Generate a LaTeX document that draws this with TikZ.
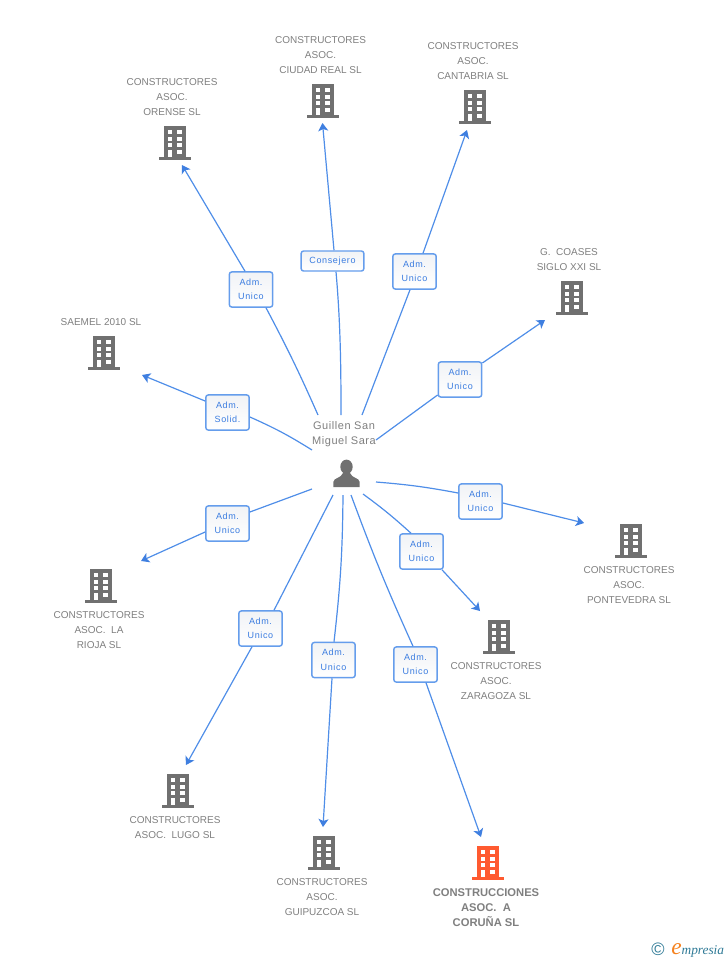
\documentclass[tikz,border=0pt]{standalone}
\usepackage{fontspec}
\usetikzlibrary{arrows.meta,calc}
\setmainfont{Liberation Sans}
\newfontfamily\lblfont[LetterSpace=7]{Liberation Sans}
\newfontfamily\perfont[LetterSpace=5]{Liberation Sans}
\newfontfamily\logofont{Liberation Serif}
\definecolor{edgeblue}{HTML}{4F8EE8}
\definecolor{tipblue}{HTML}{3F7FE0}
\definecolor{lbltext}{HTML}{3A7CE0}
\definecolor{boxblue}{HTML}{659DEC}
\definecolor{boxtop}{HTML}{F1F3F6}
\definecolor{txtgray}{HTML}{7F7F7F}
\definecolor{icongray}{HTML}{707070}
\definecolor{iconorange}{HTML}{FF5A30}
\definecolor{logoteal}{HTML}{2F7A96}
\definecolor{logoorange}{HTML}{F5821F}
\tikzset{
  x=0.75pt,y=-0.75pt,
  link/.style={draw=edgeblue,line width=0.9pt},
  arrowlink/.style={link,-{Stealth[length=6pt,width=7.5pt,inset=1.5pt,color=tipblue]}},
  rolebox/.style={draw=boxblue,line width=1.1pt,rounded corners=1.8pt,top color=boxtop,bottom color=white,
    inner sep=0pt,minimum width=32.5pt,minimum height=26.3pt,align=center,text=lbltext,
    font=\lblfont\fontsize{6.75}{10.9}\selectfont},
  onebox/.style={rolebox,minimum width=47pt,minimum height=15pt},
  firm/.style={align=center,text=txtgray,inner sep=0pt,font=\fontsize{7.5}{11.25}\selectfont},
  boldfirm/.style={align=center,text=txtgray,inner sep=0pt,font=\bfseries\fontsize{8.4}{11.25}\selectfont},
  person/.style={align=center,text=txtgray,inner sep=0pt,font=\perfont\fontsize{8.25}{11.4}\selectfont},
  bldg/.pic={
    \fill[#1] (-11,0) rectangle (11,31);
    \fill[#1] (-16,31) rectangle (16,34);
    \foreach \yy in {4,10.7,17.3}{
      \fill[white] (-7.5,\yy) rectangle (-3,\yy+4);
      \fill[white] (2.2,\yy) rectangle (6.8,\yy+4);
    }
    \fill[white] (-7.5,24) rectangle (-3,31);
    \fill[white] (2.2,24) rectangle (6.8,28);
  },
}
\begin{document}
\begin{tikzpicture}
\useasboundingbox (0,0) rectangle (728,960);
% free ends near the person
\coordinate (sCiudad) at (341,415);
\coordinate (sCant) at (362,415);
\coordinate (sOre) at (318,415);
\coordinate (sSiglo) at (376,440);
\coordinate (sSae) at (312,450);
\coordinate (sPont) at (376,482);
\coordinate (sZar) at (363,494);
\coordinate (sRio) at (312,489);
\coordinate (sLugo) at (333,495);
\coordinate (sGui) at (343,495);
\coordinate (sCor) at (351,495);
% free ends near the firms
\coordinate (eCiudad) at (322.5,123);
\coordinate (eCant) at (467,130);
\coordinate (eOre) at (182,165);
\coordinate (eSiglo) at (545,320);
\coordinate (eSae) at (142,375);
\coordinate (ePont) at (584,523);
\coordinate (eZar) at (480,611);
\coordinate (eRio) at (141,561);
\coordinate (eLugo) at (186,765);
\coordinate (eGui) at (323,827);
\coordinate (eCor) at (481,837);
% role boxes
\node[onebox] (rCiudad) at (332.5,261) {Consejero};
\node[rolebox] (rCant) at (414.5,271.5) {Adm.\\Unico};
\node[rolebox] (rOre) at (251,289.5) {Adm.\\Unico};
\node[rolebox] (rSiglo) at (460,379.5) {Adm.\\Unico};
\node[rolebox] (rSae) at (227.5,412.5) {Adm.\\Solid.};
\node[rolebox] (rPont) at (480.5,501.5) {Adm.\\Unico};
\node[rolebox] (rZar) at (421.5,551.5) {Adm.\\Unico};
\node[rolebox] (rRio) at (227.5,523.5) {Adm.\\Unico};
\node[rolebox] (rLugo) at (260.5,628.5) {Adm.\\Unico};
\node[rolebox] (rGui) at (333.5,660) {Adm.\\Unico};
\node[rolebox] (rCor) at (415.5,664.5) {Adm.\\Unico};
% connectors
\draw[link] (sCiudad) to[out=90,in=-85,looseness=0.9] ($(rCiudad.south)+(3.5,0)$);
\draw[arrowlink] ($(rCiudad.north)+(1.5,0)$) -- (eCiudad);
\draw[link] (sCant) -- ($(rCant.south)+(-4.5,0)$);
\draw[arrowlink] ($(rCant.north)+(8.5,0)$) -- (eCant);
\draw[link] (sOre) to[bend right=2] ($(rOre.south)+(15,0)$);
\draw[arrowlink] ($(rOre.north)+(-6,0)$) -- (eOre);
\draw[link] (sSiglo) -- ($(rSiglo.west)+(0,15.5)$);
\draw[arrowlink] ($(rSiglo.east)+(0,-16.5)$) -- (eSiglo);
\draw[link] (sSae) to[bend right=4] ($(rSae.east)+(0,4.5)$);
\draw[arrowlink] ($(rSae.west)+(0,-11.5)$) -- (eSae);
\draw[link] (sPont) to[bend left=3] ($(rPont.west)+(0,-8.5)$);
\draw[arrowlink] ($(rPont.east)+(0,1.5)$) -- (ePont);
\draw[link] (sZar) to[bend left=3] ($(rZar.north)+(-10.5,0)$);
\draw[arrowlink] ($(rZar.south)+(20.5,0)$) -- (eZar);
\draw[link] (sRio) -- ($(rRio.east)+(0,-11.5)$);
\draw[arrowlink] ($(rRio.west)+(0,8.5)$) -- (eRio);
\draw[link] (sLugo) -- ($(rLugo.north)+(13.5,0)$);
\draw[arrowlink] ($(rLugo.south)+(-8.5,0)$) -- (eLugo);
\draw[link] (sGui) to[bend left=3] ($(rGui.north)+(0.5,0)$);
\draw[arrowlink] ($(rGui.south)+(-1.5,0)$) -- (eGui);
\draw[link] (sCor) to[bend right=2] ($(rCor.north)+(-2.5,0)$);
\draw[arrowlink] ($(rCor.south)+(10.5,0)$) -- (eCor);
% person
\node[person] (pname) at (344,434) {Guillen San\\Miguel Sara};
\fill[icongray] (346.5,466.8) ellipse [x radius=6.2,y radius=7.2];
\fill[icongray] (333.3,487) -- (333.3,482) .. controls (333.8,477.5) and (341,478.5) .. (343,473)
  -- (350,473) .. controls (352,478.5) and (359.2,477.5) .. (359.7,482) -- (359.7,487) -- cycle;
% buildings
\pic at (323,84) {bldg=icongray};
\pic at (475,90) {bldg=icongray};
\pic at (175,126) {bldg=icongray};
\pic at (572,281) {bldg=icongray};
\pic at (104,336) {bldg=icongray};
\pic at (631,524) {bldg=icongray};
\pic at (499,620) {bldg=icongray};
\pic at (101,569) {bldg=icongray};
\pic at (178,774) {bldg=icongray};
\pic at (324,836) {bldg=icongray};
\pic at (488,846) {bldg=iconorange};
% firm names
\node[firm] (tCiudad) at (320.5,55.4) {CONSTRUCTORES\\ASOC.\\CIUDAD REAL SL};
\node[firm] (tCant) at (473,61.4) {CONSTRUCTORES\\ASOC.\\CANTABRIA SL};
\node[firm] (tOre) at (172,97.4) {CONSTRUCTORES\\ASOC.\\ORENSE SL};
\node[firm] (tSiglo) at (569,259.9) {G.~~COASES\\SIGLO XXI SL};
\node[firm] (tSae) at (101,322.4) {SAEMEL 2010 SL};
\node[firm] (tPont) at (629,585.4) {CONSTRUCTORES\\ASOC.\\PONTEVEDRA SL};
\node[firm] (tZar) at (496,681.4) {CONSTRUCTORES\\ASOC.\\ZARAGOZA SL};
\node[firm] (tRio) at (99,630.4) {CONSTRUCTORES\\ASOC.~~LA\\RIOJA SL};
\node[firm] (tLugo) at (175,827.9) {CONSTRUCTORES\\ASOC.~~LUGO SL};
\node[firm] (tGui) at (322,897.4) {CONSTRUCTORES\\ASOC.\\GUIPUZCOA SL};
\node[boldfirm] (tCor) at (486,907.2) {CONSTRUCCIONES\\ASOC.~~A\\CORUÑA SL};
% logo
\node[text=logoteal,inner sep=0pt,font=\fontsize{13.5}{14}\selectfont] (lc) at (658,949) {©};
\node[inner sep=0pt,anchor=base west,font=\logofont\itshape\fontsize{10}{10}\selectfont] (lg) at (671,954)
  {\textcolor{logoorange}{\fontsize{17.5}{18}\selectfont e}\textcolor{logoteal}{mpresia}};
\end{tikzpicture}
\end{document}
